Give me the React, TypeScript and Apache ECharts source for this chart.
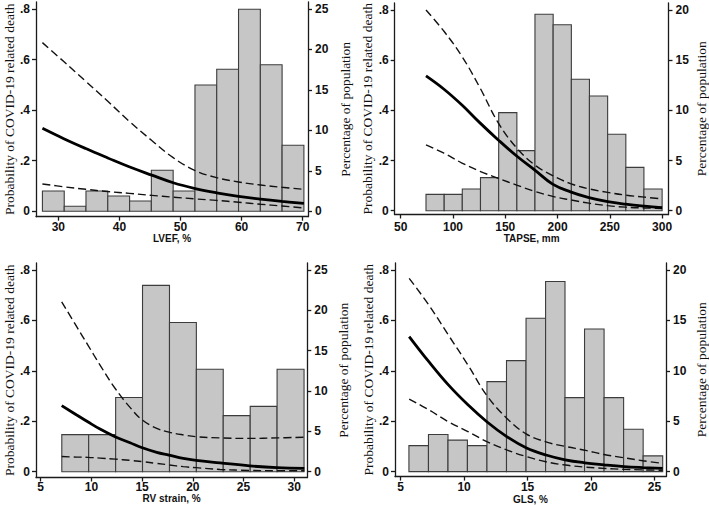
import React, { useEffect, useRef } from "react";
import * as echarts from "echarts";

// ---------- Panel 1: LVEF ----------
const lvefEdges = [27.4, 30.97, 34.53, 38.1, 41.67, 45.23, 48.8, 52.37, 55.93, 59.5, 63.07, 66.63, 70.2];
const lvefPct = [2.51, 0.62, 2.51, 1.89, 1.27, 5.07, 2.51, 15.6, 17.55, 24.96, 18.1, 8.16];
const lvefX = [27.4, 30.9, 34.5, 38.1, 41.6, 45.3, 48.8, 52.4, 55.9, 59.5, 63.1, 66.6, 70.2];
const lvefFit = [0.328, 0.287, 0.248, 0.211, 0.176, 0.143, 0.113, 0.09, 0.073, 0.059, 0.048, 0.039, 0.031];
const lvefUpper = [0.667, 0.592, 0.514, 0.435, 0.356, 0.28, 0.212, 0.161, 0.133, 0.116, 0.104, 0.095, 0.087];
const lvefLower = [0.108, 0.097, 0.087, 0.078, 0.071, 0.063, 0.056, 0.049, 0.043, 0.036, 0.028, 0.021, 0.013];
const lvefTicks = [30, 40, 50, 60, 70];

// ---------- Panel 2: TAPSE ----------
const tapseEdges = [74.2, 91.6, 108.9, 126.3, 143.7, 161.1, 178.4, 195.8, 213.2, 230.5, 247.9, 265.3, 282.6, 300.0];
const tapsePct = [1.63, 1.63, 2.16, 3.29, 9.77, 5.98, 19.57, 18.53, 13.09, 11.43, 7.61, 4.32, 2.16];
const tapseX = [74.2, 91.4, 108.6, 125.8, 143.3, 160.9, 178.3, 195.3, 212.4, 230, 248, 265, 283, 300];
const tapseFit = [0.537, 0.484, 0.421, 0.35, 0.282, 0.218, 0.162, 0.106, 0.075, 0.052, 0.036, 0.026, 0.018, 0.012];
const tapseUpper = [0.8, 0.715, 0.615, 0.49, 0.35, 0.25, 0.182, 0.14, 0.108, 0.087, 0.073, 0.062, 0.054, 0.047];
const tapseLower = [0.262, 0.229, 0.19, 0.157, 0.129, 0.102, 0.077, 0.057, 0.043, 0.03, 0.02, 0.014, 0.011, 0.009];
const tapseTicks = [50, 100, 150, 200, 250, 300];

// ---------- Panel 3: RV strain ----------
const rvEdges = [7.08, 9.73, 12.39, 15.04, 17.7, 20.35, 23.0, 25.66, 28.31, 30.97];
const rvPct = [4.6, 4.6, 9.2, 23.1, 18.5, 12.7, 6.95, 8.1, 12.7];
const rvX = [7.07, 8.55, 9.64, 10.85, 12.33, 13.81, 15.02, 16.44, 17.65, 19.06, 20.32, 22.68, 25.6, 28.3, 31.0];
const rvFit = [0.262, 0.225, 0.198, 0.169, 0.139, 0.115, 0.095, 0.077, 0.066, 0.053, 0.045, 0.035, 0.023, 0.016, 0.013];
const rvUpper = [0.674, 0.575, 0.503, 0.423, 0.331, 0.255, 0.205, 0.172, 0.157, 0.146, 0.139, 0.134, 0.132, 0.134, 0.137];
const rvLower = [0.06, 0.058, 0.057, 0.054, 0.05, 0.045, 0.04, 0.033, 0.027, 0.02, 0.016, 0.009, 0.005, 0.004, 0.004];
const rvTicks = [5, 10, 15, 20, 25, 30];

// ---------- Panel 4: GLS ----------
const glsEdges = [5.65, 7.19, 8.73, 10.26, 11.8, 13.34, 14.88, 16.42, 17.95, 19.49, 21.03, 22.57, 24.11, 25.65];
const glsPct = [2.58, 3.68, 3.12, 2.58, 8.93, 11.01, 15.22, 18.86, 7.34, 14.15, 7.34, 4.2, 1.56];
const glsX = [5.67, 7.22, 8.76, 10.3, 11.79, 13.36, 14.88, 16.45, 17.96, 19.5, 21.02, 22.6, 24.08, 25.65];
const glsFit = [0.536, 0.436, 0.344, 0.265, 0.198, 0.139, 0.095, 0.066, 0.047, 0.035, 0.027, 0.02, 0.016, 0.013];
const glsUpper = [0.767, 0.661, 0.542, 0.423, 0.302, 0.212, 0.15, 0.118, 0.1, 0.085, 0.068, 0.055, 0.043, 0.033];
const glsLower = [0.288, 0.245, 0.198, 0.159, 0.119, 0.086, 0.06, 0.039, 0.026, 0.018, 0.013, 0.009, 0.007, 0.005];
const glsTicks = [5, 10, 15, 20, 25];

const probTicks = [0, 0.2, 0.4, 0.6, 0.8];
const pct25Ticks = [0, 5, 10, 15, 20, 25];
const pct20Ticks = [0, 5, 10, 15, 20];

const SANS = "'Liberation Sans', Arial, sans-serif";
const SERIF = "'Liberation Serif', 'Times New Roman', serif";

type Panel = {
  title: string;
  edges: number[];
  pct: number[];
  xs: number[];
  fit: number[];
  upper: number[];
  lower: number[];
  xTicks: number[];
  pctTicks: number[];
  pctScale: number;
  grid: { left: number; top: number; width: number; height: number };
  xMin: number;
  xMax: number;
  yMin: number;
  yMax: number;
  xLabelMargin: number;
  xNameGap: number;
  leftNameGap: number;
  rightNameGap: number;
};

const panels: Panel[] = [
  {
    title: "LVEF, %", edges: lvefEdges, pct: lvefPct, xs: lvefX, fit: lvefFit, upper: lvefUpper, lower: lvefLower,
    xTicks: lvefTicks, pctTicks: pct25Ticks, pctScale: 31.25,
    grid: { left: 36, top: 2, width: 272, height: 214.7 },
    xMin: 26.35, xMax: 70.87, yMin: -0.02135, yMax: 0.8276,
    xLabelMargin: 4, xNameGap: 17, leftNameGap: 17.5, rightNameGap: 30.5,
  },
  {
    title: "TAPSE, mm", edges: tapseEdges, pct: tapsePct, xs: tapseX, fit: tapseFit, upper: tapseUpper, lower: tapseLower,
    xTicks: tapseTicks, pctTicks: pct20Ticks, pctScale: 25,
    grid: { left: 394.7, top: 3, width: 274, height: 211.5 },
    xMin: 44.27, xMax: 306.1, yMin: -0.0152, yMax: 0.8278,
    xLabelMargin: 6, xNameGap: 18.5, leftNameGap: 19, rightNameGap: 25.5,
  },
  {
    title: "RV strain, %", edges: rvEdges, pct: rvPct, xs: rvX, fit: rvFit, upper: rvUpper, lower: rvLower,
    xTicks: rvTicks, pctTicks: pct25Ticks, pctScale: 31.25,
    grid: { left: 36, top: 263, width: 271.3, height: 214.5 },
    xMin: 4.536, xMax: 31.29, yMin: -0.023, yMax: 0.8278,
    xLabelMargin: 3.5, xNameGap: 15.5, leftNameGap: 19.5, rightNameGap: 29.5,
  },
  {
    title: "GLS, %", edges: glsEdges, pct: glsPct, xs: glsX, fit: glsFit, upper: glsUpper, lower: glsLower,
    xTicks: glsTicks, pctTicks: pct20Ticks, pctScale: 25,
    grid: { left: 395, top: 263, width: 272.3, height: 213.7 },
    xMin: 4.553, xMax: 25.91, yMin: -0.0198, yMax: 0.8278,
    xLabelMargin: 4.5, xNameGap: 16, leftNameGap: 19.5, rightNameGap: 28,
  },
];

const axisLineStyle = { color: "#1a1a1a", width: 1.3 };
const tickLabelStyle = { fontFamily: SANS, fontSize: 12, fontWeight: "bold" as const, color: "#111" };
const titleStyle = { fontFamily: SERIF, fontSize: 13.5, color: "#111" };

function buildOption() {
  const grid: any[] = [];
  const xAxis: any[] = [];
  const yAxis: any[] = [];
  const series: any[] = [];

  panels.forEach((p, k) => {
    grid.push({ ...p.grid, containLabel: false });
    xAxis.push({
      type: "value",
      gridIndex: k,
      min: p.xMin,
      max: p.xMax,
      position: "bottom",
      axisLine: { show: true, onZero: false, lineStyle: axisLineStyle },
      axisTick: { show: true, length: 4, customValues: p.xTicks, lineStyle: axisLineStyle },
      axisLabel: { ...tickLabelStyle, margin: p.xLabelMargin, customValues: p.xTicks },
      splitLine: { show: false },
      name: p.title,
      nameLocation: "middle",
      nameGap: p.xNameGap,
      nameTextStyle: { fontFamily: SANS, fontSize: 10, fontWeight: "bold", color: "#111" },
    });
    yAxis.push({
      type: "value",
      gridIndex: k,
      position: "left",
      min: p.yMin,
      max: p.yMax,
      axisLine: { show: true, onZero: false, lineStyle: axisLineStyle },
      axisTick: { show: true, length: 4, customValues: probTicks, lineStyle: axisLineStyle },
      axisLabel: {
        ...tickLabelStyle,
        margin: 6,
        customValues: probTicks,
        formatter: (v: number) => (Math.abs(v) < 1e-9 ? "0" : v.toFixed(1).replace(/^0/, "")),
      },
      splitLine: { show: false },
      name: "Probability of COVID-19 related death",
      nameLocation: "middle",
      nameGap: p.leftNameGap,
      nameTextStyle: titleStyle,
    });
    yAxis.push({
      type: "value",
      gridIndex: k,
      position: "right",
      min: p.yMin * p.pctScale,
      max: p.yMax * p.pctScale,
      axisLine: { show: true, onZero: false, lineStyle: axisLineStyle },
      axisTick: { show: true, length: 4, customValues: p.pctTicks, lineStyle: axisLineStyle },
      axisLabel: { ...tickLabelStyle, margin: 7, customValues: p.pctTicks },
      splitLine: { show: false },
      name: "Percentage of population",
      nameLocation: "middle",
      nameGap: p.rightNameGap,
      nameTextStyle: titleStyle,
    });

    const hist = p.pct.map((h, i) => [p.edges[i], p.edges[i + 1], h]);
    series.push({
      type: "custom",
      xAxisIndex: k,
      yAxisIndex: 2 * k + 1,
      data: hist,
      encode: { x: [0, 1], y: 2 },
      z: 1,
      renderItem: (_params: any, api: any) => {
        const a = api.coord([api.value(0), api.value(2)]);
        const b = api.coord([api.value(1), 0]);
        return {
          type: "rect",
          shape: { x: a[0], y: a[1], width: b[0] - a[0], height: b[1] - a[1] },
          style: { fill: "#c6c6c6", stroke: "#3c3c3c", lineWidth: 1.1 },
        };
      },
    });

    const mk = (ys: number[]) => p.xs.map((x, i) => [x, ys[i]]);
    const common = {
      type: "line",
      xAxisIndex: k,
      yAxisIndex: 2 * k,
      symbol: "none",
      showSymbol: false,
      smooth: 0.4,
      z: 3,
    };
    series.push({ ...common, name: "upper" + k, data: mk(p.upper), lineStyle: { color: "#111", width: 1.4, type: [8, 4] } });
    series.push({ ...common, name: "lower" + k, data: mk(p.lower), lineStyle: { color: "#111", width: 1.4, type: [8, 4] } });
    series.push({ ...common, name: "fit" + k, data: mk(p.fit), lineStyle: { color: "#000", width: 2.8 } });
  });

  return {
    animation: false,
    backgroundColor: "#ffffff",
    grid,
    xAxis,
    yAxis,
    series,
  };
}

export default function App() {
  const ref = useRef<HTMLDivElement>(null);
  useEffect(() => {
    if (!ref.current) return;
    const chart = echarts.init(ref.current, undefined, { renderer: "svg" });
    chart.setOption(buildOption() as any);
    return () => chart.dispose();
  }, []);
  return (
    <div
      ref={ref}
      style={{ position: "fixed", left: 0, top: 0, width: 709, height: 505, background: "#fff" }}
    />
  );
}
